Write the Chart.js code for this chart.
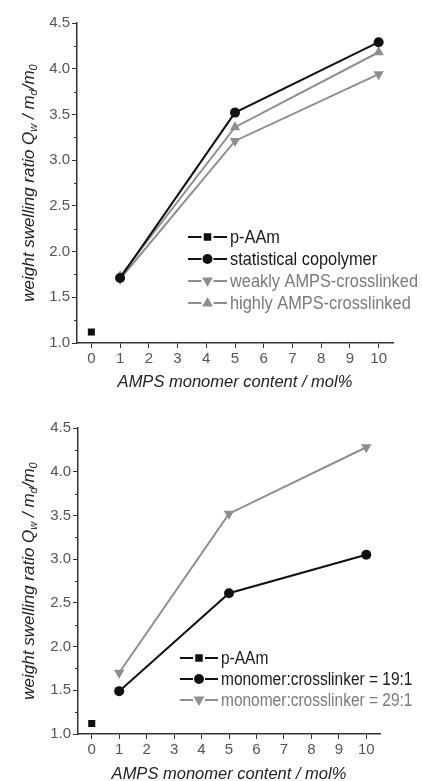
<!DOCTYPE html>
<html>
<head>
<meta charset="utf-8">
<script src="https://cdn.jsdelivr.net/npm/chart.js@4.4.1/dist/chart.umd.min.js"></script>
<style>
  html, body { margin: 0; padding: 0; background: #fff; }
  canvas { display: block; }
</style>
</head>
<body>
<canvas id="topChart" width="422" height="390"></canvas>
<canvas id="bottomChart" width="422" height="391"></canvas>
<script>
// values
const xTicks = [0, 1, 2, 3, 4, 5, 6, 7, 8, 9, 10];
const yTicks = [1.0, 1.5, 2.0, 2.5, 3.0, 3.5, 4.0, 4.5];
const yMinorTicks = [1.25, 1.75, 2.25, 2.75, 3.25, 3.75, 4.25];

const pAAmX = [0];
const pAAmY = [1.12];
const contentX = [1, 5, 10];

// top panel
const statistical = [1.71, 3.52, 4.29];
const weaklyCrosslinked = [1.70, 3.21, 3.94];
const highlyCrosslinked = [1.73, 3.36, 4.18];

// bottom panel
const ratio19 = [1.49, 2.61, 3.05];
const ratio29 = [1.70, 3.52, 4.28];

const xTitle = 'AMPS monomer content / mol%';
const BLACK = '#111111';
const GREY = '#8e8e8e';
const AXIS = '#333333';
const FONT = "'Liberation Sans', Arial, sans-serif";

function pts(xs, ys) {
    let out = [];
    for (let i = 0; i < xs.length; i++) {
        out.push({x: xs[i], y: ys[i]});
    }
    return out;
}

function series(label, xs, ys, color, style, radius, rotation) {
    return {
        label: label,
        data: pts(xs, ys),
        showLine: true,
        borderColor: color,
        backgroundColor: color,
        borderWidth: 2,
        pointStyle: style,
        pointRadius: radius,
        pointRotation: rotation || 0,
        pointBorderWidth: 0,
    };
}

function drawMarker(ctx, style, x, y, r, rotation, color) {
    ctx.save();
    ctx.fillStyle = color;
    ctx.translate(x, y);
    ctx.rotate((rotation || 0) * Math.PI / 180);
    ctx.beginPath();
    if (style === 'rect') {
        ctx.rect(-r * 0.75, -r * 0.75, r * 1.5, r * 1.5);
    } else if (style === 'circle') {
        ctx.arc(0, 0, r, 0, Math.PI * 2);
    } else {
        ctx.moveTo(0, -r);
        ctx.lineTo(r * 0.9, r * 0.6);
        ctx.lineTo(-r * 0.9, r * 0.6);
        ctx.closePath();
    }
    ctx.fill();
    ctx.restore();
}

// minor ticks, axis titles (with subscripts) and the in-plot legend
const extras = {
    id: 'extras',
    afterDraw(chart, args, o) {
        const ctx = chart.ctx;
        const a = chart.chartArea;
        const yScale = chart.scales.y;

        ctx.save();
        ctx.strokeStyle = AXIS;
        ctx.lineWidth = 1;
        yMinorTicks.forEach(v => {
            const py = Math.round(yScale.getPixelForValue(v)) + 0.5;
            ctx.beginPath();
            ctx.moveTo(a.left - 3, py);
            ctx.lineTo(a.left, py);
            ctx.stroke();
        });

        // x title
        ctx.fillStyle = '#222';
        ctx.font = 'italic 16.5px ' + FONT;
        ctx.textAlign = 'center';
        ctx.textBaseline = 'middle';
        ctx.fillText(xTitle, (a.left + a.right) / 2, a.bottom + o.xTitleOffset);

        // y title, rotated, with subscripts
        const parts = [
            {t: 'weight swelling ratio Q', sub: false},
            {t: 'w', sub: true},
            {t: ' / m', sub: false},
            {t: 'd', sub: true},
            {t: '/m', sub: false},
            {t: '0', sub: true},
        ];
        const big = 'italic 17px ' + FONT;
        const small = 'italic 11px ' + FONT;
        let total = 0;
        parts.forEach(p => {
            ctx.font = p.sub ? small : big;
            p.w = ctx.measureText(p.t).width;
            total += p.w;
        });
        ctx.translate(o.yTitleX, (a.top + a.bottom) / 2);
        ctx.rotate(-Math.PI / 2);
        ctx.textAlign = 'left';
        ctx.textBaseline = 'alphabetic';
        let cx = -total / 2;
        parts.forEach(p => {
            ctx.font = p.sub ? small : big;
            ctx.fillText(p.t, cx, p.sub ? 9 : 6);
            cx += p.w;
        });
        ctx.restore();

        // legend (text squeezed sideways like the narrow face in the figure)
        ctx.save();
        ctx.font = o.legendSize + 'px ' + FONT;
        ctx.textBaseline = 'middle';
        ctx.textAlign = 'left';
        chart.data.datasets.forEach((ds, i) => {
            const ly = o.legendY + i * o.legendRow;
            const lx = o.legendX;
            ctx.strokeStyle = ds.borderColor;
            ctx.lineWidth = 2;
            ctx.beginPath();
            ctx.moveTo(lx, ly);
            ctx.lineTo(lx + o.legendSym, ly);
            ctx.stroke();
            ctx.fillStyle = '#fff';
            ctx.fillRect(lx + o.legendSym / 2 - 6, ly - 6, 12, 12);
            drawMarker(ctx, ds.pointStyle, lx + o.legendSym / 2, ly, ds.pointRadius, ds.pointRotation, ds.borderColor);
            ctx.save();
            ctx.translate(lx + o.legendSym + 3, ly + 1);
            ctx.scale(0.86, 1);
            ctx.fillStyle = ds.borderColor === GREY ? '#7a7a7a' : '#1a1a1a';
            ctx.fillText(ds.label, 0, 0);
            ctx.restore();
        });
        ctx.restore();
    }
};

function getConfig(datasets, pad, extra) {
    return {
        type: 'scatter',
        data: {datasets: datasets},
        plugins: [extras],
        options: {
            responsive: false,
            animation: false,
            layout: {padding: pad},
            plugins: {
                legend: {display: false},
                tooltip: {enabled: false},
                extras: extra,
            },
            scales: {
                x: {
                    type: 'linear',
                    min: -0.5,
                    max: 10.5,
                    afterBuildTicks: axis => { axis.ticks = xTicks.map(v => ({value: v})); },
                    afterFit: axis => { axis.height = 47; },
                    ticks: {font: {family: FONT, size: 15}, color: '#555', padding: 2},
                    grid: {drawOnChartArea: false, drawTicks: true, tickLength: 5, color: AXIS, tickWidth: 1},
                    border: {color: AXIS, width: 1.5},
                },
                y: {
                    type: 'linear',
                    min: 1.0,
                    max: 4.5,
                    afterBuildTicks: axis => { axis.ticks = yTicks.map(v => ({value: v})); },
                    afterFit: axis => { axis.width = pad.yWidth; },
                    ticks: {font: {family: FONT, size: 15}, color: '#555', padding: 2,
                        callback: v => v.toFixed(1)},
                    grid: {drawOnChartArea: false, drawTicks: true, tickLength: 5, color: AXIS, tickWidth: 1},
                    border: {color: AXIS, width: 1.5},
                },
            },
        },
    };
}

const topSets = [
    series('p-AAm', pAAmX, pAAmY, BLACK, 'rect', 5),
    series('statistical copolymer', contentX, statistical, BLACK, 'circle', 5),
    series('weakly AMPS-crosslinked', contentX, weaklyCrosslinked, GREY, 'triangle', 6, 180),
    series('highly AMPS-crosslinked', contentX, highlyCrosslinked, GREY, 'triangle', 6),
];

const bottomSets = [
    series('p-AAm', pAAmX, pAAmY, BLACK, 'rect', 5),
    series('monomer:crosslinker = 19:1', contentX, ratio19, BLACK, 'circle', 5),
    series('monomer:crosslinker = 29:1', contentX, ratio29, GREY, 'triangle', 6, 180),
];

window.topChart = new Chart(document.getElementById('topChart').getContext('2d'),
    getConfig(topSets, {top: 23, left: 0, right: 29, bottom: 0, yWidth: 77},
        {xTitleOffset: 39, yTitleX: 28, legendX: 188, legendY: 237, legendRow: 22, legendSym: 39,
         legendSize: 19}));

window.bottomChart = new Chart(document.getElementById('bottomChart').getContext('2d'),
    getConfig(bottomSets, {top: 38, left: 0, right: 42, bottom: 0, yWidth: 78},
        {xTitleOffset: 40, yTitleX: 28, legendX: 180, legendY: 268, legendRow: 21, legendSym: 38,
         legendSize: 18}));
</script>
</body>
</html>
